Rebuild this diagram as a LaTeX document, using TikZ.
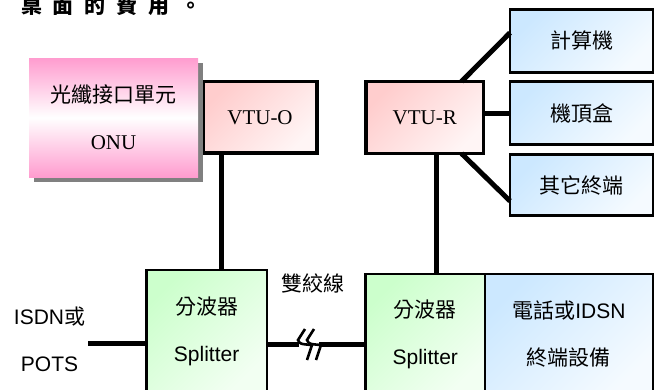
\documentclass[tikz,border=0pt]{standalone}
\usepackage{fontspec}
\setmainfont{Liberation Serif}
\setsansfont{Liberation Sans}
\newfontfamily\cjk{Noto Sans CJK TC}
\usetikzlibrary{shadows}

\definecolor{onupink}{RGB}{255,156,207}
\definecolor{vtupink}{RGB}{255,205,205}
\definecolor{splitgreen}{RGB}{204,255,204}
\definecolor{termblue}{RGB}{204,232,255}

\begin{document}
\begin{tikzpicture}[x=1pt, y=-1pt,
    every node/.style={rectangle, inner sep=0pt, outer sep=0pt, align=center, font=\fontsize{21}{47}\selectfont},
    onu/.style={top color=onupink, bottom color=onupink, middle color=white, drop shadow={shadow xshift=5pt, shadow yshift=-5pt, fill=gray, opacity=1}},
    vtu/.style={draw, line width=3.5pt, top color=vtupink, bottom color=vtupink!20, shading angle=45},
    splitter/.style={draw, line width=2.2pt, top color=splitgreen, bottom color=splitgreen!25, shading angle=45},
    device/.style={draw, line width=2.8pt, top color=termblue, bottom color=termblue!20, shading angle=45, font=\cjk\fontsize{21}{47}\selectfont},
    wire/.style={line width=5pt}]
    \useasboundingbox (0,0) rectangle (655,389);
    \clip (0,0) rectangle (655,389);

    \node[anchor=base west, font=\cjk\bfseries\fontsize{21}{25}\selectfont] (Caption) at (21,13.5) {桌\kern11pt 面\kern11pt 的\kern11pt 費\kern11pt 用\kern11pt 。};

    \node[vtu, minimum width=114pt, minimum height=71.5pt] (VTUO) at (260,117.25) {VTU-O};
    \node[onu, minimum width=169pt, minimum height=119pt] (ONU) at (113.5,117.5) {{\cjk 光纖接口單元}\\ONU};
    \node[vtu, minimum width=117.5pt, minimum height=72pt] (VTUR) at (424.75,117.5) {VTU-R};
    \node[device, minimum width=143pt, minimum height=62.5pt] (PC) at (581.5,41) {計算機};
    \node[device, minimum width=143pt, minimum height=63.5pt] (STB) at (581.5,113) {機頂盒};
    \node[device, minimum width=143pt, minimum height=61pt] (Term) at (581.5,185) {其它終端};
    \node[splitter, minimum width=120.2pt, minimum height=122.3pt] (SplitL) at (206.6,330.85) {{\cjk 分波器}\\{\sffamily Splitter}};
    \node[splitter, minimum width=119.5pt, minimum height=121.3pt] (SplitR) at (425.25,334.35) {{\cjk 分波器}\\{\sffamily Splitter}};
    \node[device, line width=2.2pt, minimum width=167.8pt, minimum height=121.3pt] (Phone) at (568.9,334.35) {電話或{\sffamily IDSN}\\終端設備};
    \node (ISDN) at (49.5,339.5) {{\sffamily ISDN}{\cjk 或}\\{\sffamily POTS}};
    \node[font=\cjk\fontsize{21}{25}\selectfont] (Twisted) at (313,283) {雙絞線};

    % drops to the splitters
    \coordinate (OTap) at ([xshift=18pt]VTUO.south west);
    \coordinate (RTap) at ([xshift=12pt]VTUR.south);
    \draw[wire] (OTap) -- (OTap |- SplitL.north);
    \draw[wire] (RTap) -- (RTap |- SplitR.north);

    % terminals
    \draw[wire] ([xshift=-22pt]VTUR.north east) -- ([yshift=-23pt]PC.north west);
    \draw[wire] (VTUR.east |- STB.west) -- (STB.west);
    \draw[wire] ([xshift=-22pt]VTUR.south east) -- ([yshift=14.5pt]Term.south west);

    % POTS line and twisted pair
    \coordinate (PotsEnd) at (88,343);
    \draw[wire] (PotsEnd) -- (PotsEnd -| SplitL.west);
    \coordinate (BreakL) at (299,344);
    \coordinate (BreakR) at (319,344);
    \draw[wire] (SplitL.east |- BreakL) -- (BreakL);
    \draw[wire] (BreakR) -- (BreakR -| SplitR.west);
    \foreach \dx in {0,9}
      \draw[line width=2.6pt] (305+\dx,329) -- (298+\dx,340) .. controls (300+\dx,344) .. (312+\dx,345) -- (307+\dx,360);
\end{tikzpicture}
\end{document}
